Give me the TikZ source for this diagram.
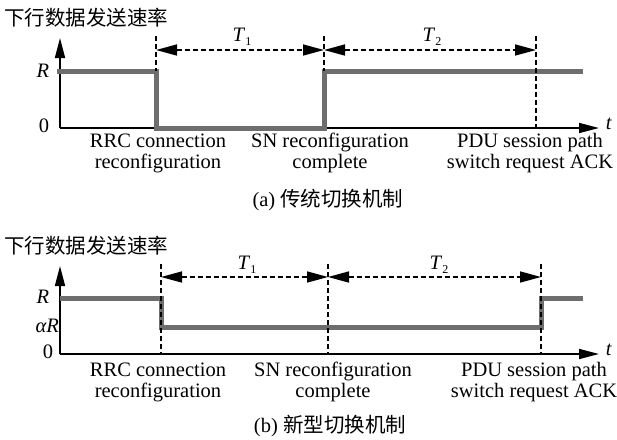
\documentclass[tikz,border=0pt]{standalone}
\usepackage{fontspec}
\setmainfont{Liberation Serif}
\newfontfamily\cjk{Noto Sans CJK SC}
\usetikzlibrary{arrows.meta}
\definecolor{rategray}{RGB}{110,110,110}
\newcommand{\durlabel}[1]{\textit{T}\raisebox{-0.4ex}{\fontsize{12}{12}\selectfont #1}}
\tikzset{
  txt/.style={font=\fontsize{20.5}{21}\selectfont, inner sep=0pt},
  cntr/.style={txt, align=center},
  axisline/.style={line width=1.6pt, -{Triangle[length=20pt,width=10pt]}},
  rate/.style={line width=5pt, draw=rategray},
  guide/.style={line width=1.5pt, dash pattern=on 5pt off 3pt},
  span/.style={guide, {Triangle[length=21pt,width=11pt]}-{Triangle[length=21pt,width=11pt]}},
}
\begin{document}
\begin{tikzpicture}[x=1pt, y=-1pt]
\useasboundingbox (0,0) rectangle (617,439);

% ---------------- (a) conventional handover ----------------
\node[txt, anchor=west] (a-title) at (4,18) {\cjk 下行数据发送速率};
\coordinate (a-o) at (60,128);
\coordinate (a-top) at (60,38);
\coordinate (a-end) at (599,128);
\draw[axisline] (a-o) -- (a-top);
\draw[axisline] (a-o) -- (a-end);
\node[txt] (a-R) at (43,71) {\textit{R}};
\node[txt] (a-0) at (44,126) {0};
\node[txt] (a-t) at (609,124) {\textit{t}};

\coordinate (a-r0) at (57,71);
\coordinate (a-r1) at (156,71);
\coordinate (a-r2) at (156,128);
\coordinate (a-r3) at (324,128);
\coordinate (a-r4) at (324,71);
\coordinate (a-r5) at (583,71);
\draw[rate] (a-r0) -- (a-r1) -- (a-r2) -- (a-r3) -- (a-r4) -- (a-r5);

\coordinate (a-d1) at (156,36);
\coordinate (a-d2) at (324,36);
\coordinate (a-d3) at (536,36);
\coordinate (a-d3b) at (536,128);
\draw[guide] (a-d1) -- (a-r1);
\draw[guide] (a-d2) -- (a-r4);
\draw[guide] (a-d3) -- (a-d3b);
\coordinate (a-s1) at (156,50);
\coordinate (a-s2) at (324,50);
\coordinate (a-s3) at (536,50);
\draw[span] (a-s1) -- (a-s2);
\draw[span] (a-s2) -- (a-s3);
\node[txt] (a-T1) at (242,37) {\durlabel{1}};
\node[txt] (a-T2) at (432,37) {\durlabel{2}};

\node[cntr] (a-rrc) at (158,153) {RRC connection\\reconfiguration};
\node[cntr] (a-sn) at (330,153) {SN reconfiguration\\complete};
\node[cntr] (a-pdu) at (530,153) {PDU session path\\switch request ACK};
\node[txt] (a-cap) at (328,200) {(a) {\cjk 传统切换机制}};

% ---------------- (b) new handover ----------------
\node[txt, anchor=west] (b-title) at (4,246) {\cjk 下行数据发送速率};
\coordinate (b-o) at (60,354);
\coordinate (b-top) at (60,266);
\coordinate (b-end) at (599,354);
\draw[axisline] (b-o) -- (b-top);
\draw[axisline] (b-o) -- (b-end);
\node[txt] (b-R) at (43,297) {\textit{R}};
\node[txt, anchor=east] (b-aR) at (59,326) {\textit{αR}};
\node[txt] (b-0) at (48,352) {0};
\node[txt] (b-t) at (609,350) {\textit{t}};

\coordinate (b-r0) at (60,298);
\coordinate (b-r1) at (161,298);
\coordinate (b-r2) at (161,327);
\coordinate (b-r3) at (541,327);
\coordinate (b-r4) at (541,298);
\coordinate (b-r5) at (583,298);
\draw[rate] (b-r0) -- (b-r1) -- (b-r2) -- (b-r3) -- (b-r4) -- (b-r5);

\coordinate (b-d1) at (161,264);
\coordinate (b-d1b) at (161,354);
\coordinate (b-d2) at (328,264);
\coordinate (b-d2b) at (328,354);
\coordinate (b-d3) at (541,264);
\coordinate (b-d3b) at (541,354);
\draw[guide] (b-d1) -- (b-d1b);
\draw[guide] (b-d2) -- (b-d2b);
\draw[guide] (b-d3) -- (b-d3b);
\coordinate (b-s1) at (161,277);
\coordinate (b-s2) at (328,277);
\coordinate (b-s3) at (541,277);
\draw[span] (b-s1) -- (b-s2);
\draw[span] (b-s2) -- (b-s3);
\node[txt] (b-T1) at (247,265) {\durlabel{1}};
\node[txt] (b-T2) at (439,265) {\durlabel{2}};

\node[cntr] (b-rrc) at (158,382) {RRC connection\\reconfiguration};
\node[cntr] (b-sn) at (333,382) {SN reconfiguration\\complete};
\node[cntr] (b-pdu) at (534,382) {PDU session path\\switch request ACK};
\node[txt] (b-cap) at (330,426) {(b) {\cjk 新型切换机制}};
\end{tikzpicture}
\end{document}
